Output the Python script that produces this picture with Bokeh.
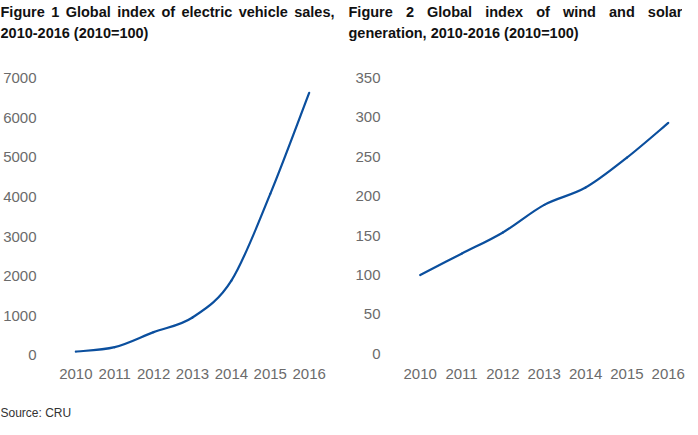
import numpy as np
from bokeh.plotting import figure
from bokeh.models import Range1d, FixedTicker, ColumnDataSource
from bokeh.layouts import row, column
from bokeh.core.properties import value
from bokeh.embed import file_html
from bokeh.resources import INLINE

# ---- data ----
years = [2010, 2011, 2012, 2013, 2014, 2015, 2016]
ev_sales_index = [100, 210, 590, 960, 1890, 4080, 6630]
wind_solar_index = [100, 127, 154, 189, 211, 249, 293]
ev_ticks = [0, 1000, 2000, 3000, 4000, 5000, 6000, 7000]
ws_ticks = [0, 50, 100, 150, 200, 250, 300, 350]
title1_line1_words = ["Figure", "1", "Global", "index", "of", "electric", "vehicle", "sales,"]
title1_line2 = "2010-2016 (2010=100)"
title2_line1_words = ["Figure", "2", "Global", "index", "of", "wind", "and", "solar"]
title2_line2 = "generation, 2010-2016 (2010=100)"
source_text = "Source: CRU"

LINE_COLOR = "#0b4f9e"
TICK_COLOR = "#6b6b6b"
TITLE_COLOR = "#111111"
FONT = "Liberation Sans"
PAGE_W = 682
TITLE_PX = 14.5

# approximate advance widths of Liberation Sans Bold (1/1000 em), for justified title lines
BOLD_W = {"F": 611, "i": 278, "g": 611, "u": 611, "r": 389, "e": 556, "G": 778, "l": 278,
          "o": 611, "b": 611, "a": 556, "n": 611, "d": 611, "x": 556, "f": 333, "c": 556,
          "t": 333, "v": 556, "h": 611, "s": 556, ",": 278, "w": 778}


def word_width(w, px):
    return sum(BOLD_W.get(ch, 556) for ch in w) * px / 1000.0


def justify(words, left, right, px):
    widths = [word_width(w, px) for w in words]
    gap = (right - left - sum(widths)) / (len(words) - 1)
    xs, x = [], left
    for wd in widths:
        xs.append(x)
        x += wd + gap
    return xs


def smooth_source(xs, ys):
    """Bezier segments through the data points (Excel-like smoothed line)."""
    x = np.asarray(xs, float)
    y = np.asarray(ys, float)
    qx = np.concatenate([[x[0]], x, [x[-1]]])
    qy = np.concatenate([[y[0]], y, [y[-1]]])
    i = np.arange(len(x) - 1)
    return ColumnDataSource(dict(
        x0=x[:-1], y0=y[:-1], x1=x[1:], y1=y[1:],
        cx0=qx[i + 1] + (qx[i + 2] - qx[i]) / 6.0,
        cy0=qy[i + 1] + (qy[i + 2] - qy[i]) / 6.0,
        cx1=qx[i + 2] - (qx[i + 3] - qx[i + 1]) / 6.0,
        cy1=qy[i + 2] - (qy[i + 3] - qy[i + 1]) / 6.0,
    ))


def text_panel(height):
    """A bare figure whose frame is the whole panel; y runs downwards in px."""
    p = figure(frame_width=PAGE_W, frame_height=height,
               x_range=Range1d(0, PAGE_W), y_range=Range1d(height, 0),
               x_axis_location=None, y_axis_location=None,
               output_backend="svg", toolbar_location=None,
               min_border_left=0, min_border_right=0, min_border_top=0, min_border_bottom=0)
    p.grid.visible = False
    p.outline_line_color = None
    return p


def chart(bl, fw, br, xr, yr, yticks, values, label_standoff):
    p = figure(frame_width=fw, frame_height=289, x_range=Range1d(*xr), y_range=Range1d(*yr),
               output_backend="svg", toolbar_location=None,
               min_border_left=bl, min_border_right=br,
               min_border_top=8, min_border_bottom=26)
    p.grid.visible = False
    p.outline_line_color = None
    p.xaxis.ticker = FixedTicker(ticks=years)
    p.yaxis.ticker = FixedTicker(ticks=yticks)
    for ax in (p.xaxis, p.yaxis):
        ax.axis_line_color = None
        ax.major_tick_line_color = None
        ax.minor_tick_line_color = None
        ax.major_label_text_font = FONT
        ax.major_label_text_font_size = "15px"
        ax.major_label_text_color = TICK_COLOR
    p.xaxis.major_label_standoff = 1
    p.yaxis.major_label_standoff = label_standoff
    src = smooth_source(years, values)
    p.bezier(x0="x0", y0="y0", x1="x1", y1="y1", cx0="cx0", cy0="cy0", cx1="cx1", cy1="cy1",
             source=src, line_color=LINE_COLOR, line_width=2.2, line_cap="round")
    return p


# ---- titles panel ----
top = text_panel(64)
tkw = dict(text_font=value(FONT), text_font_size=f"{TITLE_PX}px", text_font_style="bold",
           text_color=TITLE_COLOR, text_baseline="alphabetic", text_align="left")
top.text(x=[0, 348], y=[32.5, 32.5], text=[title1_line2, title2_line2], **tkw)
x1 = justify(title1_line1_words, 0, 334, TITLE_PX)
top.text(x=x1, y=[11] * len(x1), text=title1_line1_words, **tkw)
x2 = justify(title2_line1_words, 348, 682, TITLE_PX)
top.text(x=x2, y=[11] * len(x2), text=title2_line1_words, **tkw)

# ---- charts ----
p1 = chart(45, 280, 16, (2009.4, 2016.6), (-151.5, 7144), ev_ticks, ev_sales_index, 10)
p2 = chart(46, 287, 8, (2009.378, 2016.32), (-9.8, 357), ws_ticks, wind_solar_index, 8)

# ---- source panel ----
bottom = text_panel(32)
bottom.text(x=[0], y=[25], text=[source_text], text_font=value(FONT), text_font_size="12px",
            text_color="#333333", text_baseline="alphabetic", text_align="left")

layout = column(top, row(p1, p2), bottom)
open("out.html", "w").write(file_html(layout, INLINE))
